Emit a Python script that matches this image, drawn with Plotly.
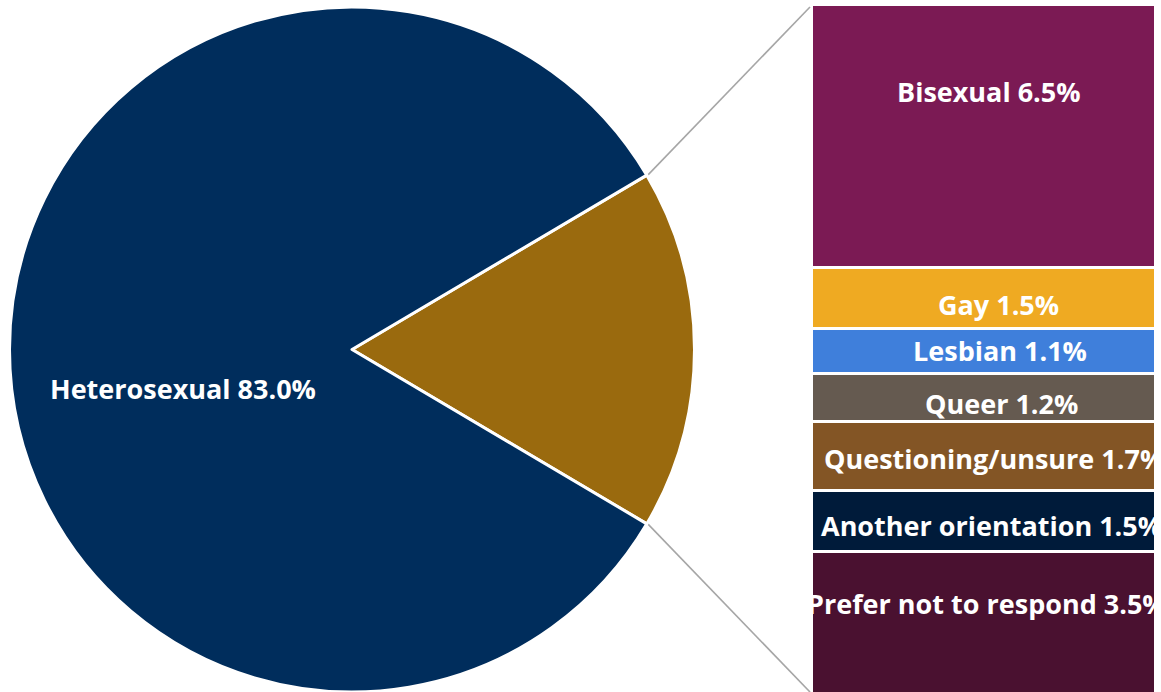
import math
import plotly.graph_objects as go

# Overall split shown in the pie
pie_labels = ["Other orientations", "Heterosexual"]
pie_values = [17.0, 83.0]
pie_colors = ["#9A6A0E", "#002D5C"]

# Breakdown of the "other" slice, top to bottom of the stacked bar
bar_labels = ["Bisexual", "Gay", "Lesbian", "Queer", "Questioning/unsure",
              "Another orientation", "Prefer not to respond"]
bar_values = [6.5, 1.5, 1.1, 1.2, 1.7, 1.5, 3.5]
bar_colors = ["#7B1A54", "#EFAA22", "#3F7FDB", "#655A50", "#835525",
              "#001B3A", "#4A1130"]

# Fine nudges (px) for the bar labels, top to bottom
label_yshift = [45, -6, 1, -5, -2, -4, 20]
label_xshift = [5, 14, 16, 17, 10, 7, 3]

W, H = 1161, 692
FONT = "Open Sans"
FSIZE = 27

# Pie geometry in pixels
pie_cx, pie_r = 352, 342.5
pie_top = 7
pie_cy = pie_top + pie_r

fig = go.Figure()

other_share = pie_values[0] / sum(pie_values)
half_angle = other_share * 360 / 2

fig.add_trace(go.Pie(
    labels=pie_labels, values=pie_values, sort=False, direction="clockwise",
    rotation=90 - half_angle,
    marker=dict(colors=pie_colors, line=dict(color="white", width=3)),
    textinfo="none", hoverinfo="label+value", showlegend=False,
    domain=dict(x=[(pie_cx - pie_r) / W, (pie_cx + pie_r) / W],
                y=[0, (H - pie_top) / H]),
))

# Stacked bar: plotly stacks from the bottom, so add traces in reverse
bar_left, bar_right, bar_top = 812, 1156, 5
total = sum(bar_values)
for lab, val, col in reversed(list(zip(bar_labels, bar_values, bar_colors))):
    fig.add_trace(go.Bar(
        x=[0], y=[val], name=lab, width=1,
        marker=dict(color=col, line=dict(color="white", width=3.5)),
        xaxis="x2", yaxis="y2", showlegend=False,
        hovertemplate=f"{lab}: %{{y}}%<extra></extra>",
    ))

annotations = []
# Segment labels, placed at each segment's midpoint
cum = total
for lab, val, dy, dx in zip(bar_labels, bar_values, label_yshift, label_xshift):
    mid = cum - val / 2
    cum -= val
    annotations.append(dict(
        x=0, y=mid, xref="x2", yref="y2", text=f"<b>{lab} {val:.1f}%</b>",
        showarrow=False, yshift=dy, xshift=dx, xanchor="center", yanchor="middle",
        font=dict(family=FONT, size=FSIZE, color="white"),
    ))

annotations.append(dict(
    x=183 / W, y=1 - 388 / H, xref="paper", yref="paper",
    xanchor="center", yanchor="middle",
    text=f"<b>{pie_labels[1]} {pie_values[1]:.1f}%</b>", showarrow=False,
    font=dict(family=FONT, size=FSIZE, color="white"),
))

# Connector lines from the slice edges to the bar corners
a = math.radians(half_angle)
ex = pie_cx + pie_r * math.cos(a)
ey_up = pie_cy - pie_r * math.sin(a)
ey_dn = pie_cy + pie_r * math.sin(a)
shapes = []
for (y0, y1) in [(ey_up, 7), (ey_dn, 692)]:
    shapes.append(dict(
        type="line", xref="paper", yref="paper",
        x0=(ex + 1) / W, y0=1 - y0 / H, x1=810 / W, y1=1 - y1 / H,
        line=dict(color="#A6A6A6", width=1.6), layer="below",
    ))

px_per_unit = (H - bar_top - 2 + 4) / total
fig.update_layout(
    width=W, height=H, margin=dict(l=0, r=0, t=0, b=0),
    paper_bgcolor="white", plot_bgcolor="white",
    barmode="stack", bargap=0,
    xaxis2=dict(domain=[bar_left / W, bar_right / W], range=[-0.5, 0.5],
                visible=False, anchor="y2", fixedrange=True),
    yaxis2=dict(domain=[0, (H - bar_top) / H],
                range=[total - (H - bar_top) / px_per_unit, total],
                visible=False, anchor="x2", fixedrange=True),
    annotations=annotations, shapes=shapes,
)

fig.write_html("out.html")
